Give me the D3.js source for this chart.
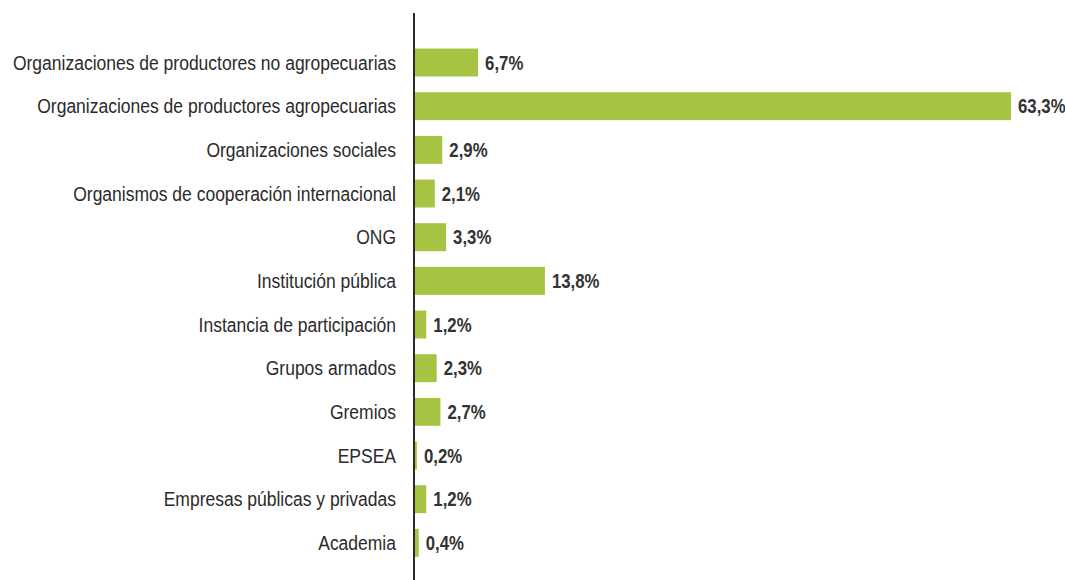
<!DOCTYPE html>
<html>
<head>
<meta charset="utf-8">
<script src="https://cdn.jsdelivr.net/npm/d3@7"></script>
<style>
  body { margin: 0; background: #fff; }
  svg { display: block; }
  .cat { font-family: "Liberation Sans", Arial, sans-serif; font-size: 20px; fill: #2b2b2b; }
  .val { font-family: "Liberation Sans", Arial, sans-serif; font-size: 20px; font-weight: bold; fill: #333; }
</style>
</head>
<body>
<div id="chart"></div>
<script>
var categories = [
    'Organizaciones de productores no agropecuarias',
    'Organizaciones de productores agropecuarias',
    'Organizaciones sociales',
    'Organismos de cooperación internacional',
    'ONG',
    'Institución pública',
    'Instancia de participación',
    'Grupos armados',
    'Gremios',
    'EPSEA',
    'Empresas públicas y privadas',
    'Academia'
];
var values = [6.7, 63.3, 2.9, 2.1, 3.3, 13.8, 1.2, 2.3, 2.7, 0.2, 1.2, 0.4];
var valueLabels = ['6,7%', '63,3%', '2,9%', '2,1%', '3,3%', '13,8%', '1,2%', '2,3%', '2,7%', '0,2%', '1,2%', '0,4%'];

var width = 1065,
    height = 580;

// narrow look: regular sans squeezed horizontally
var squeezeCat = 0.875,
    squeezeVal = 0.84;

var data = categories.map((c, i) => ({ cat: c, value: values[i], label: valueLabels[i] }));

var x = d3.scaleLinear()
    .domain([0, 63.3])
    .range([415, 1011]);

var y = d3.scaleBand()
    .domain(categories)
    .range([40.7, 564.7])
    .paddingInner(0.36)
    .paddingOuter(0.18);

var svg = d3.select('#chart')
    .append('svg')
    .attr('width', width)
    .attr('height', height);

// bars
svg.append('g')
    .selectAll('rect')
    .data(data)
    .enter()
    .append('rect')
    .attr('x', x(0))
    .attr('y', d => y(d.cat))
    .attr('width', d => x(d.value) - x(0))
    .attr('height', y.bandwidth())
    .attr('fill', '#a6c441');

// category labels
svg.append('g')
    .selectAll('text')
    .data(data)
    .enter()
    .append('text')
    .attr('class', 'cat')
    .attr('transform', d => `translate(396, ${y(d.cat) + y.bandwidth() / 2}) scale(${squeezeCat}, 1)`)
    .attr('dy', '0.35em')
    .style('text-anchor', 'end')
    .text(d => d.cat);

// value labels
svg.append('g')
    .selectAll('text')
    .data(data)
    .enter()
    .append('text')
    .attr('class', 'val')
    .attr('transform', d => `translate(${x(d.value) + 7}, ${y(d.cat) + y.bandwidth() / 2}) scale(${squeezeVal}, 1)`)
    .attr('dy', '0.35em')
    .style('text-anchor', 'start')
    .text(d => d.label);

// vertical axis line
svg.append('line')
    .attr('x1', 414)
    .attr('x2', 414)
    .attr('y1', 13)
    .attr('y2', height)
    .attr('stroke', '#2b2b2b')
    .attr('stroke-width', 2);
</script>
</body>
</html>
